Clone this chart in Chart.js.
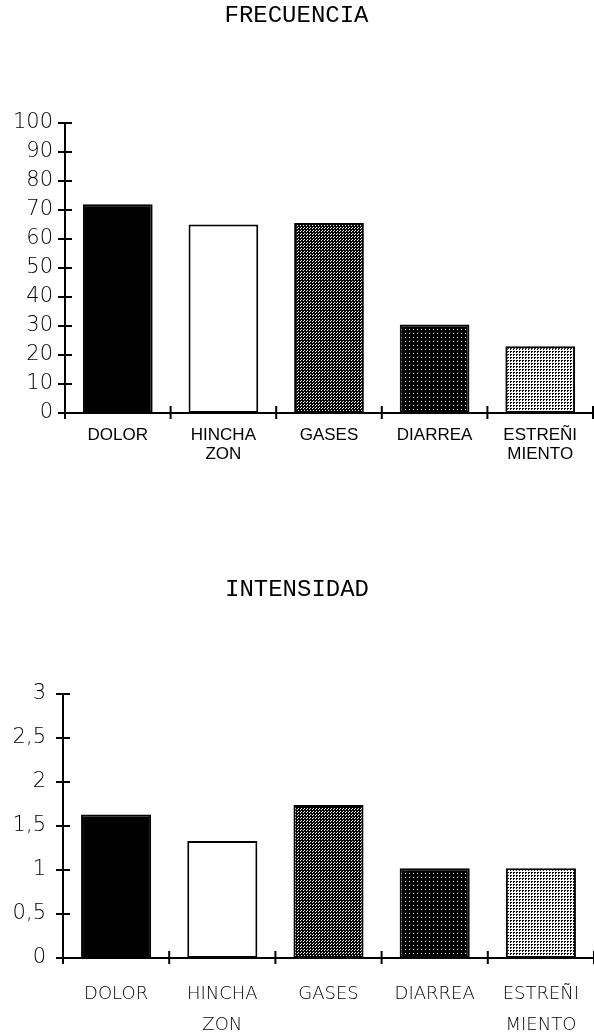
<!DOCTYPE html>
<html>
<head>
<meta charset="utf-8">
<script src="https://cdn.jsdelivr.net/npm/chart.js@4"></script>
<style>
  html, body { margin: 0; padding: 0; background: #fff; }
  .box { position: absolute; left: 0; width: 594px; }
  #top { top: 0; height: 480px; }
  #bot { top: 560px; height: 473px; }
</style>
</head>
<body>
<div class="box" id="top"><canvas id="c1"></canvas></div>
<div class="box" id="bot"><canvas id="c2"></canvas></div>
<script>
const categories = ["DOLOR", ["HINCHA", "ZON"], "GASES", "DIARREA", ["ESTREÑI", "MIENTO"]]
const frecuencia = [72, 65, 65.5, 30.5, 23]
const intensidad = [1.63, 1.33, 1.74, 1.02, 1.02]
const frecuenciaAxis = { min: 0, max: 100, step: 10 }
const intensidadAxis = { min: 0, max: 3, step: 0.5 }

const light = "'DejaVu Sans', sans-serif"

function stipple(bg, fg, size, rects) {
  const t = document.createElement("canvas")
  t.width = t.height = size
  const g = t.getContext("2d")
  g.fillStyle = bg
  g.fillRect(0, 0, size, size)
  g.fillStyle = fg
  rects.forEach(([x, y, w, h]) => g.fillRect(x, y, w, h))
  return g.createPattern(t, "repeat")
}

const fills = [
  "#000",
  "#fff",
  stipple("#000", "#fff", 3, [[0, 0, 1, 1], [1, 2, 1, 1]]),
  stipple("#000", "#fff", 4, [[1, 1, 1, 1]]),
  stipple("#fff", "#000", 3, [[0, 0, 2, 1], [0, 1, 1, 1]])
]

// tick marks that cross the axis lines
const crossTicks = {
  id: "crossTicks",
  afterDraw(chart) {
    const { ctx, scales: { x, y } } = chart
    ctx.save()
    ctx.strokeStyle = "#000"
    ctx.lineWidth = 2
    ctx.beginPath()
    y.ticks.forEach(t => {
      const py = y.getPixelForValue(t.value)
      ctx.moveTo(x.left - 7, py)
      ctx.lineTo(x.left + 7, py)
    })
    for (let i = 0; i <= x.ticks.length; i++) {
      const px = x.getPixelForValue(i - 0.5)
      ctx.moveTo(px, y.bottom - 7)
      ctx.lineTo(px, y.bottom + 6)
    }
    ctx.stroke()
    ctx.restore()
  }
}

function makeChart(id, cfg) {
  return new Chart(document.getElementById(id), {
    type: "bar",
    data: {
      labels: categories,
      datasets: [{
        data: cfg.values,
        backgroundColor: fills,
        borderColor: "#000",
        borderWidth: 2,
        borderSkipped: false,
        barPercentage: 0.66,
        categoryPercentage: 1
      }]
    },
    plugins: [crossTicks],
    options: {
      responsive: true,
      maintainAspectRatio: false,
      animation: false,
      layout: { padding: { left: 0, right: cfg.right, top: 0, bottom: 0 } },
      plugins: {
        legend: { display: false },
        tooltip: { enabled: false },
        title: {
          display: true,
          text: cfg.title,
          color: "#000",
          font: { family: "'Liberation Mono', monospace", size: 24, weight: "normal", lineHeight: 1 },
          padding: cfg.titlePad
        }
      },
      scales: {
        x: {
          grid: { display: false, drawTicks: false },
          border: { display: true, color: "#000", width: 2 },
          ticks: { color: "#000", font: cfg.xFont, padding: cfg.xPad, maxRotation: 0, autoSkip: false },
          afterFit: s => {
            s.height = cfg.xHeight
            s.paddingLeft = 0
            s.paddingRight = 0
          }
        },
        y: {
          min: cfg.axis.min,
          max: cfg.axis.max,
          grid: { display: false, drawTicks: false },
          border: { display: true, color: "#000", width: 2 },
          ticks: {
            stepSize: cfg.axis.step,
            color: "#000",
            padding: cfg.yPad,
            font: { family: light, size: 21, weight: 200 },
            callback: v => String(v).replace(".", ",")
          },
          afterFit: s => { s.width = cfg.yWidth }
        }
      }
    }
  })
}

makeChart("c1", {
  title: "FRECUENCIA",
  values: frecuencia,
  axis: frecuenciaAxis,
  titlePad: { top: 4, bottom: 95 },
  xHeight: 67,
  xPad: 13,
  xFont: { family: "'Liberation Sans', Arial, sans-serif", size: 17, lineHeight: 1.12 },
  yPad: 12,
  yWidth: 65,
  right: 1
})

makeChart("c2", {
  title: "INTENSIDAD",
  values: intensidad,
  axis: intensidadAxis,
  titlePad: { top: 18, bottom: 92 },
  xHeight: 75,
  xPad: 21,
  xFont: { family: light, size: 18, weight: 200, lineHeight: 1.72 },
  yPad: 17,
  yWidth: 63,
  right: 0
})
</script>
</body>
</html>
